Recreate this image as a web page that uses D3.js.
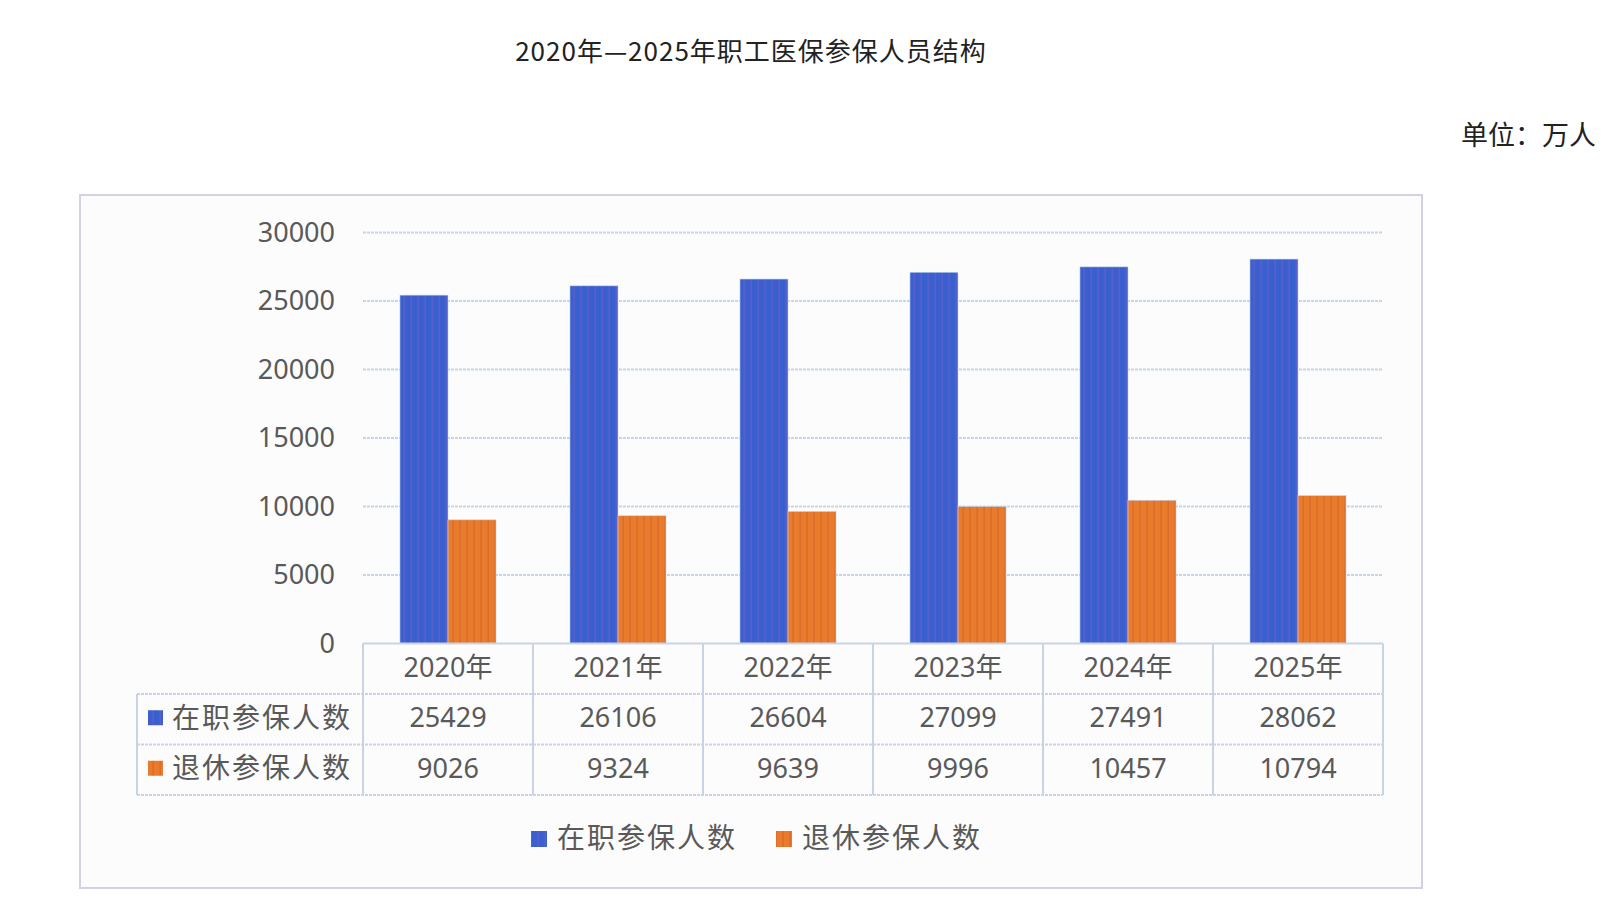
<!DOCTYPE html>
<html>
<head>
<meta charset="utf-8">
<script src="https://cdn.jsdelivr.net/npm/d3@7"></script>
<style>
  body { margin: 0; background: #fff; }
  svg { display: block; }
  text { font-family: "Noto Sans", "Noto Sans CJK SC", sans-serif; }
</style>
</head>
<body>
<div id="chart"></div>
<script>
const years = ['2020年', '2021年', '2022年', '2023年', '2024年', '2025年']
const seriesNames = ['在职参保人数', '退休参保人数']
const employed = [25429, 26106, 26604, 27099, 27491, 28062]
const retired = [9026, 9324, 9639, 9996, 10457, 10794]
const yTicks = [0, 5000, 10000, 15000, 20000, 25000, 30000]

const seriesValues = [employed, retired]
const colors = { base: ['#3a5fcf', '#e97c2c'], stripe: ['#6f5cc6', '#d6602a'] }

const width = 1606
const height = 918
const plot = { left: 363, right: 1383, top: 232.5, bottom: 643.5 }
const rowH = 50.5
const textColor = '#595959'

const svg = d3.select('#chart').append('svg')
  .attr('width', width)
  .attr('height', height)

// stripe patterns for the bars
const defs = svg.append('defs')
seriesNames.forEach((s, i) => {
  const p = defs.append('pattern')
    .attr('id', 'stripe' + i)
    .attr('patternUnits', 'userSpaceOnUse')
    .attr('width', 7)
    .attr('height', 10)
  p.append('rect').attr('width', 7).attr('height', 10).attr('fill', colors.base[i])
  p.append('rect').attr('x', 5.5).attr('width', 1.2).attr('height', 10).attr('fill', colors.stripe[i]).attr('opacity', 0.8)
})

// title + unit
svg.append('text')
  .attr('x', 751).attr('y', 61)
  .attr('text-anchor', 'middle')
  .attr('fill', '#222')
  .style('font-family', '"Noto Sans CJK SC", sans-serif')
  .style('font-size', '26px')
  .style('letter-spacing', '1px')
  .text('2020年—2025年职工医保参保人员结构')

svg.append('text')
  .attr('x', 1596).attr('y', 145)
  .attr('text-anchor', 'end')
  .attr('fill', '#222')
  .style('font-family', '"Noto Sans CJK SC", sans-serif')
  .style('font-size', '27px')
  .text('单位：万人')

// chart frame
svg.append('rect')
  .attr('x', 80).attr('y', 195)
  .attr('width', 1342).attr('height', 693)
  .attr('fill', '#fcfcfc')
  .attr('stroke', '#d2d2e6')
  .attr('stroke-width', 2)

const x0 = d3.scaleBand().domain(years).range([plot.left, plot.right])
const x1 = d3.scaleBand().domain(seriesNames).range([0, x0.bandwidth()]).paddingOuter(0.77)
const y = d3.scaleLinear().domain([0, 30000]).range([plot.bottom, plot.top])

// grid
svg.append('g')
  .selectAll('line')
  .data(yTicks.slice(1))
  .join('line')
  .attr('x1', plot.left).attr('x2', plot.right)
  .attr('y1', d => y(d)).attr('y2', d => y(d))
  .attr('stroke', '#c8d6e4')
  .attr('stroke-width', 2)
  .attr('stroke-dasharray', '3,1')

// y labels
svg.append('g')
  .selectAll('text')
  .data(yTicks)
  .join('text')
  .attr('x', 335)
  .attr('y', d => y(d))
  .attr('dy', '0.35em')
  .attr('text-anchor', 'end')
  .attr('fill', textColor)
  .style('font-size', '27px')
  .text(d => d)

// bars
const groups = svg.append('g')
  .selectAll('g')
  .data(years)
  .join('g')
  .attr('transform', d => `translate(${x0(d)},0)`)

groups.selectAll('rect')
  .data((d, i) => seriesNames.map((s, j) => ({ s, j, v: seriesValues[j][i] })))
  .join('rect')
  .attr('x', d => x1(d.s))
  .attr('y', d => y(d.v))
  .attr('width', x1.bandwidth())
  .attr('height', d => y(0) - y(d.v))
  .attr('fill', d => `url(#stripe${d.j})`)
  .attr('stroke', '#bcd6f0')
  .attr('stroke-width', 0.6)

// data table
const table = svg.append('g')
const lineColor = '#c9d3e6'
const tableTop = plot.bottom
const tableLeft = 137
const rowsY = [tableTop, tableTop + rowH, tableTop + rowH * 2, tableTop + rowH * 3]

// horizontal lines
table.append('line')
  .attr('x1', plot.left).attr('x2', plot.right)
  .attr('y1', rowsY[0]).attr('y2', rowsY[0])
  .attr('stroke', lineColor).attr('stroke-width', 2)
rowsY.slice(1).forEach(ry => {
  table.append('line')
    .attr('x1', tableLeft).attr('x2', plot.right)
    .attr('y1', ry).attr('y2', ry)
    .attr('stroke', lineColor).attr('stroke-width', 2).attr('stroke-dasharray', '3,1')
})
// vertical lines
const vx = years.map(d => x0(d)).concat([plot.right])
vx.forEach(xx => {
  table.append('line')
    .attr('x1', xx).attr('x2', xx)
    .attr('y1', rowsY[0]).attr('y2', rowsY[3])
    .attr('stroke', lineColor).attr('stroke-width', 2)
})
table.append('line')
  .attr('x1', tableLeft).attr('x2', tableLeft)
  .attr('y1', rowsY[1]).attr('y2', rowsY[3])
  .attr('stroke', lineColor).attr('stroke-width', 2)

// header
table.selectAll('text.hdr')
  .data(years)
  .join('text')
  .attr('class', 'hdr')
  .attr('x', d => x0(d) + x0.bandwidth() / 2)
  .attr('y', (rowsY[0] + rowsY[1]) / 2 - 1)
  .attr('dy', '0.35em')
  .attr('text-anchor', 'middle')
  .attr('fill', textColor)
  .style('font-size', '27px')
  .text(d => d)

// value rows
seriesNames.forEach((s, j) => {
  const cy = (rowsY[j + 1] + rowsY[j + 2]) / 2 - 1.5
  table.append('rect')
    .attr('x', 148).attr('y', cy - 7.5)
    .attr('width', 15).attr('height', 15)
    .attr('fill', `url(#stripe${j})`)
  table.append('text')
    .attr('x', 172).attr('y', cy)
    .attr('dy', '0.35em')
    .attr('fill', textColor)
    .style('font-size', '28px')
    .style('letter-spacing', '2px')
    .text(s)
  table.selectAll('text.v' + j)
    .data(seriesValues[j])
    .join('text')
    .attr('class', 'v' + j)
    .attr('x', (d, i) => x0(years[i]) + x0.bandwidth() / 2)
    .attr('y', cy)
    .attr('dy', '0.35em')
    .attr('text-anchor', 'middle')
    .attr('fill', textColor)
    .style('font-size', '27px')
    .text(d => d)
})

// legend
const legendX = [531, 776]
const legend = svg.append('g')
seriesNames.forEach((s, j) => {
  legend.append('rect')
    .attr('x', legendX[j]).attr('y', 831)
    .attr('width', 16).attr('height', 16)
    .attr('fill', `url(#stripe${j})`)
  legend.append('text')
    .attr('x', legendX[j] + 26).attr('y', 838)
    .attr('dy', '0.35em')
    .attr('fill', textColor)
    .style('font-size', '28px')
    .style('letter-spacing', '2px')
    .text(s)
})
</script>
</body>
</html>
